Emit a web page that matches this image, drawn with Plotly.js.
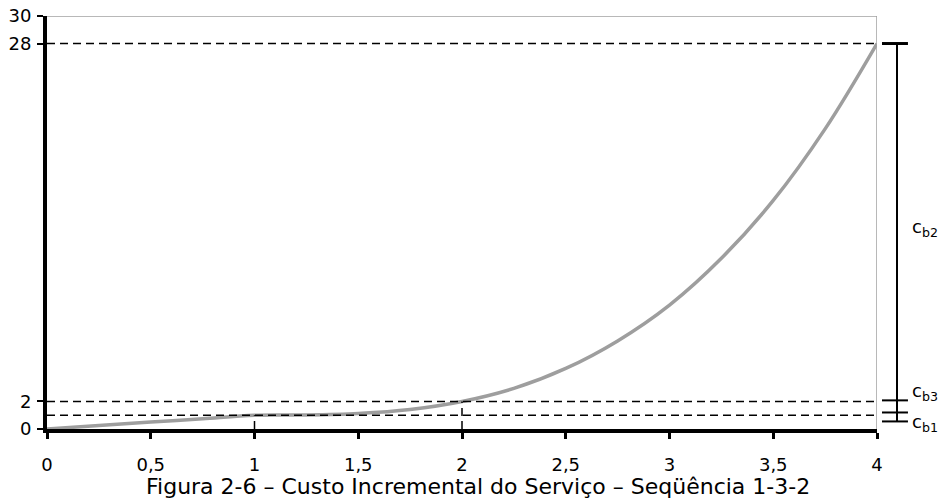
<!DOCTYPE html>
<html>
<head>
<meta charset="utf-8">
<script src="https://cdn.plot.ly/plotly-3.0.1.min.js"></script>
<style>html,body{margin:0;padding:0;background:#fff;}#chart{width:941px;height:503px;}</style>
</head>
<body>
<div id="chart"></div>
<script>
// Data
const xValues = [0, 0.25, 0.5, 0.75, 1, 1.25, 1.5, 1.75, 2, 2.25, 2.5, 2.75, 3, 3.25, 3.5, 3.75, 4];
const costValues = [0, 0.25, 0.5, 0.75, 1.0, 1.02, 1.13, 1.42, 2.0, 2.95, 4.4, 6.4, 9.0, 12.4, 16.6, 21.8, 28];
const xTickVals = [0, 0.5, 1, 1.5, 2, 2.5, 3, 3.5, 4];
const xTickText = ["0", "0,5", "1", "1,5", "2", "2,5", "3", "3,5", "4"];
const yTickVals = [0, 2, 28, 30];
const yTickText = ["0", "2", "28", "30"];
const refLevels = [28, 2, 1];          // horizontal dashed reference levels
const refX = [2, 1];                   // vertical dashed drops
const refXTop = [2, 1];
const bracketLevels = [28, 2.08, 1.2, 0.55];
const bracketLabels = ["c<sub>b2</sub>", "c<sub>b3</sub>", "c<sub>b1</sub>"];
const bracketLabelY = [14.6, 2.7, 0.4];
const captionText = "Figura 2-6 – Custo Incremental do Serviço – Seqüência 1-3-2";

const FONT = 'DejaVu Sans, Liberation Sans, Arial, sans-serif';
const shapes = [];
// gray frame top and right
shapes.push({type:'line', xref:'x', yref:'y', x0:0, x1:4, y0:30, y1:30, line:{color:'#a0a0a0', width:1.5}});
shapes.push({type:'line', xref:'x', yref:'y', x0:4, x1:4, y0:0, y1:30, line:{color:'#a0a0a0', width:1.5}});
refLevels.forEach(v => shapes.push({type:'line', xref:'x', yref:'y', x0:0, x1:4, y0:v, y1:v, line:{color:'#000', width:1.5, dash:'8px,5px'}}));
refX.forEach((v,i) => shapes.push({type:'line', xref:'x', yref:'y', x0:v, x1:v, y0:0, y1:refXTop[i], line:{color:'#000', width:1.5, dash:'8px,5px'}}));
// right bracket
shapes.push({type:'line', xref:'paper', yref:'y', x0:1.0241, x1:1.0241, y0:bracketLevels[0], y1:bracketLevels[3], line:{color:'#000', width:2}});
bracketLevels.forEach((v,i) => shapes.push({type:'line', xref:'paper', yref:'y', x0:1.006, x1:1.0373, y0:v, y1:v, line:{color:'#000', width: i===0 ? 3 : 2}}));

const annotations = bracketLabels.map((t,i) => ({
  text:t, xref:'paper', yref:'y', x:1.040, y:bracketLabelY[i], xanchor:'left', yanchor:'middle',
  showarrow:false, font:{family:FONT, size:18, color:'#000'}
}));
annotations.push({text:captionText, xref:'paper', yref:'paper', x:0.519, y:-0.14, xanchor:'center', yanchor:'middle',
  showarrow:false, font:{family:FONT, size:22, color:'#000'}});

const trace = {x:xValues, y:costValues, type:'scatter', mode:'lines',
  line:{color:'#9e9e9e', width:3.5, shape:'spline', smoothing:1}, hoverinfo:'skip'};

const layout = {
  width:941, height:503,
  margin:{l:47, r:64, t:16, b:74},
  paper_bgcolor:'#fff', plot_bgcolor:'#fff',
  showlegend:false,
  font:{family:FONT, size:18, color:'#000'},
  xaxis:{range:[0,4], tickvals:xTickVals, ticktext:xTickText, showgrid:false, zeroline:false,
    showline:true, linecolor:'#000', linewidth:4, ticks:'outside', ticklen:6, tickwidth:3, tickcolor:'#000',
    tickfont:{family:FONT, size:18}, ticklabelstandoff:10},
  yaxis:{range:[0,30], tickvals:yTickVals, ticktext:yTickText, showgrid:false, zeroline:false,
    showline:true, linecolor:'#000', linewidth:4, ticks:'outside', ticklen:6, tickwidth:2, tickcolor:'#000',
    tickfont:{family:FONT, size:18}, ticklabelstandoff:2},
  shapes:shapes, annotations:annotations
};
Plotly.newPlot('chart', [trace], layout, {staticPlot:true, displayModeBar:false});
</script>
</body>
</html>
